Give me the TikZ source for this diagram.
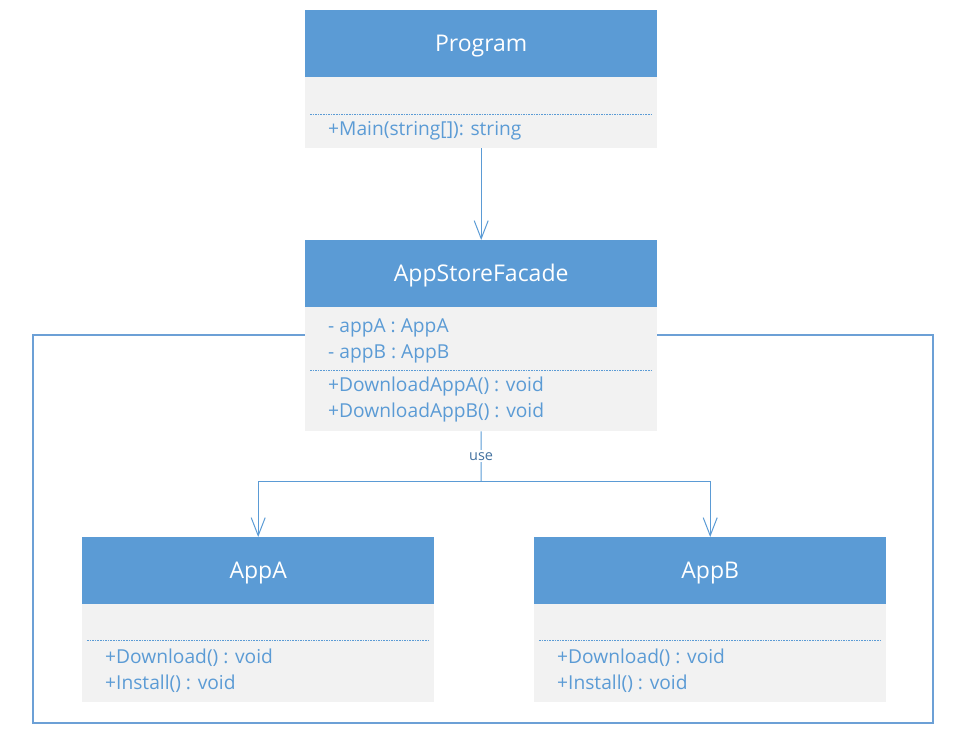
\documentclass[tikz,border=0pt]{standalone}
\usepackage{fontspec}
\setmainfont{Open Sans}
\usetikzlibrary{arrows.meta}
\definecolor{hdr}{RGB}{91,155,213}
\definecolor{bodyfill}{RGB}{242,242,242}
\definecolor{framec}{RGB}{108,160,214}
\definecolor{usec}{RGB}{68,114,160}
\tikzset{
  header/.style={fill=hdr, minimum width=352pt, minimum height=67pt, inner sep=0pt, anchor=north west},
  htext/.style={text=white, inner sep=0pt, font=\fontsize{23}{26}\selectfont},
  classbody/.style={fill=bodyfill, minimum width=352pt, inner sep=0pt, anchor=north west},
  member/.style={text=hdr, anchor=west, inner sep=0pt, font=\fontsize{19.2}{22}\selectfont},
  sep/.style={hdr, line width=0.7pt, dash pattern=on 1.6pt off 1pt},
  conn/.style={hdr, line width=1pt},
  openarrow/.style={-{Straight Barb[length=18pt,width=14pt,line width=1pt]}},
  frame/.style={framec, line width=2.2pt}
}
\begin{document}
\begin{tikzpicture}[x=1pt,y=-1pt]
\useasboundingbox (0,0) rectangle (964,736);
% outer frame (behind everything)
\draw[frame] (33,335) rectangle (933,723);

% Program
\node[header] (prog) at (305,10) {};
\node[htext] (progt) at ([yshift=-2pt]prog.center) {Program};
\node[classbody, minimum height=71pt] (progb) at (305,77) {};
\draw[sep] (310,114) -- (651,114);
\node[member] (progm1) at (328,131) {+Main(string[]): string};

% AppStoreFacade
\node[header] (fac) at (305,240) {};
\node[htext] (fact) at ([yshift=-2pt]fac.center) {AppStoreFacade};
\node[classbody, minimum height=124pt] (facb) at (305,307) {};
\node[member] (faca1) at (328,328) {- appA : AppA};
\node[member] (faca2) at (328,354) {- appB : AppB};
\draw[sep] (310,370) -- (651,370);
\node[member] (facm1) at (328,387) {+DownloadAppA() : void};
\node[member] (facm2) at (328,413) {+DownloadAppB() : void};

% AppA
\node[header] (appa) at (82,537) {};
\node[htext] (appat) at ([yshift=-2pt]appa.center) {AppA};
\node[classbody, minimum height=98pt] (appab) at (82,604) {};
\draw[sep] (87,640) -- (428,640);
\node[member] (appam1) at (105,658) {+Download() : void};
\node[member] (appam2) at (105,684) {+Install() : void};

% AppB
\node[header] (appb) at (534,537) {};
\node[htext] (appbt) at ([yshift=-2pt]appb.center) {AppB};
\node[classbody, minimum height=98pt] (appbb) at (534,604) {};
\draw[sep] (539,640) -- (880,640);
\node[member] (appbm1) at (557,658) {+Download() : void};
\node[member] (appbm2) at (557,684) {+Install() : void};

% connectors
\draw[conn, openarrow] (progb.south) -- (prog.north |- fac.north);
\coordinate (fork) at (481,481);
\draw[conn] (facb.south) -- node[fill=white, text=usec, inner sep=2pt, font=\fontsize{14.5}{16}\selectfont] (uselbl) {use} (fork);
\draw[conn, openarrow] (fork) -| (appa.north);
\draw[conn, openarrow] (fork) -| (appb.north);
\end{tikzpicture}
\end{document}
